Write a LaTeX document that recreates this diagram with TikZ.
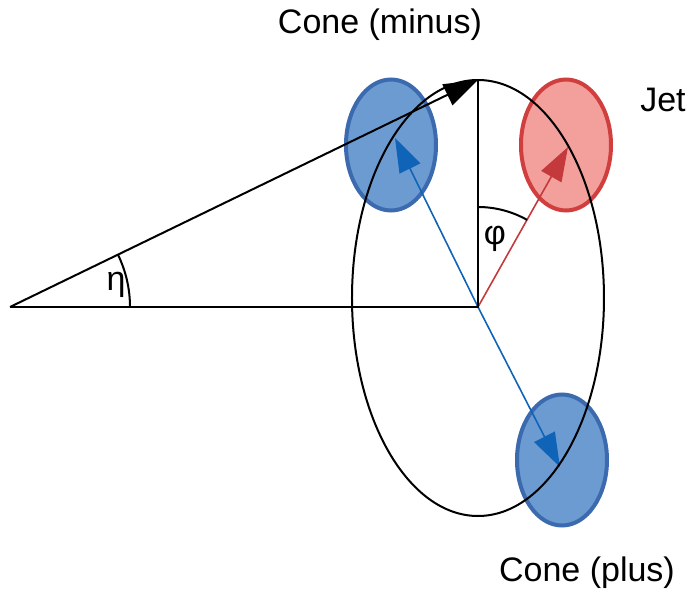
\documentclass[tikz,border=0pt]{standalone}
\usepackage{fontspec}
\setmainfont{Liberation Sans}
\usepackage{xcolor}
\usetikzlibrary{arrows.meta}
\usetikzlibrary{shapes.geometric, math}
\definecolor{cblue}{RGB}{108,155,210}
\definecolor{cblueline}{RGB}{60,106,174}
\definecolor{cbluearrow}{RGB}{16,100,184}
\definecolor{cred}{RGB}{243,160,156}
\definecolor{credline}{RGB}{208,62,62}
\definecolor{credarrow}{RGB}{196,58,60}

\tikzset{
  cone/.style={ellipse, draw=cblueline, fill=cblue, line width=4pt,
    minimum width=90pt, minimum height=131pt, inner sep=0pt},
  jet/.style={cone, draw=credline, fill=cred},
  label/.style={font=\fontsize{34}{40}\selectfont, inner sep=0pt},
  vec/.style={line width=1.6pt, -{Triangle[length=34pt,width=23pt]}}
}

\begin{document}
\begin{tikzpicture}[x=1pt,y=1pt]
\tikzmath{
\rx=126;
\ry=218;
\reta=120;
\rphi=100;
}
\useasboundingbox (-478,-285) rectangle (211,307);

%points
\coordinate (O) at (0,0);
\coordinate (A) at (-468,0);
\coordinate (T) at (0,227);
\coordinate (jettip) at (90,160);
\coordinate (minustip) at (-83,169);
\coordinate (plustip) at (82,-160);

%cones
\node[cone] (minus) at (-87,162) {};
\node[jet] (jet) at (88,162) {};
\node[cone] (plus) at (84,-153) {};

%arrows
\draw[vec, color=cbluearrow] (O) -- (minustip);
\draw[vec, color=cbluearrow] (O) -- (plustip);
\draw[vec, color=credarrow] (O) -- (jettip);

%axes and ellipse
\draw[line width=2pt] (0,9) ellipse ({\rx} and {\ry});
\draw[line width=2pt] (A) -- (O) -- (T);
\draw[line width=2pt, -{Triangle[length=34pt,width=23pt]}] (A) -- (T);

%angles
\draw[line width=2pt] ([shift={(A)}]0:\reta) arc(0:25.9:\reta);
\draw[line width=2pt] (60.6:\rphi) arc(60.6:90:\rphi);
\node[label] (eta) at (-362,22) {η};
\node[label] (phi) at (17,68) {φ};

%labels
\node[label] (minuslabel) at (-98,282) {Cone (minus)};
\node[label] (jetlabel) at (185,207) {Jet};
\node[label] (pluslabel) at (109,-266) {Cone (plus)};

\end{tikzpicture}
\end{document}
